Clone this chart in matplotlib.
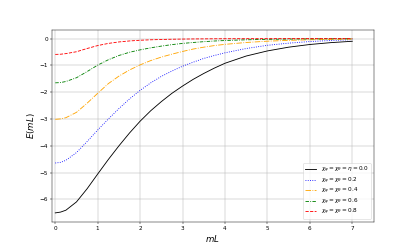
import matplotlib
matplotlib.use("Agg")
import matplotlib.pyplot as plt

x = [0, 0.125, 0.25, 0.5, 0.75, 1, 1.25, 1.5, 1.75, 2, 2.25, 2.5, 2.75, 3, 3.25, 3.5, 3.75, 4,
     4.5, 5, 5.5, 6, 6.5, 7]

e_00 = [-6.50, -6.47, -6.40, -6.09, -5.60, -5.05, -4.51, -4.00, -3.52, -3.08, -2.69, -2.35, -2.04,
        -1.77, -1.52, -1.30, -1.10, -0.92, -0.65, -0.46, -0.32, -0.22, -0.15, -0.10]
e_02 = [-4.64, -4.615, -4.54, -4.25, -3.84, -3.41, -3.00, -2.61, -2.25, -1.93, -1.65, -1.41, -1.21,
        -1.03, -0.88, -0.74, -0.63, -0.53, -0.37, -0.25, -0.17, -0.11, -0.07, -0.04]
e_04 = [-3.01, -2.995, -2.95, -2.75, -2.41, -2.04, -1.68, -1.40, -1.17, -0.98, -0.82, -0.69, -0.58,
        -0.48, -0.39, -0.32, -0.26, -0.215, -0.145, -0.097, -0.065, -0.044, -0.03, -0.02]
e_06 = [-1.65, -1.64, -1.60, -1.46, -1.23, -0.99, -0.79, -0.63, -0.51, -0.42, -0.345, -0.28, -0.225,
        -0.18, -0.145, -0.115, -0.09, -0.072, -0.045, -0.028, -0.018, -0.011, -0.007, -0.004]
e_08 = [-0.59, -0.583, -0.56, -0.49, -0.37, -0.26, -0.18, -0.125, -0.088, -0.062, -0.045, -0.033, -0.024,
        -0.018, -0.013, -0.010, -0.007, -0.005, -0.003, -0.002, -0.001, -0.0007, -0.0004, -0.0002]

labels = [r"$\chi_\varphi=\chi_\theta=\eta=0.0$",
          r"$\chi_\varphi=\chi_\theta=0.2$",
          r"$\chi_\varphi=\chi_\theta=0.4$",
          r"$\chi_\varphi=\chi_\theta=0.6$",
          r"$\chi_\varphi=\chi_\theta=0.8$"]
series = [e_00, e_02, e_04, e_06, e_08]
colors = ["black", "blue", "orange", "green", "red"]
styles = ["-", ":", "-.", (0, (4, 1.5, 1, 1.5)), "--"]

fig, ax = plt.subplots(figsize=(10, 6), dpi=41.5)
for ys, lab, c, ls in zip(series, labels, colors, styles):
    ax.plot(x, ys, color=c, linestyle=ls, linewidth=1.5, label=lab)

ax.set_xlim(-0.08, 7.5)
ax.set_xticks(range(0, 8))
ax.set_yticks(range(-6, 1))
ax.grid(True)
ax.set_xlabel(r"$mL$", fontsize=15)
ax.set_ylabel(r"$E(mL)$", fontsize=15)
ax.legend(loc="lower right", fontsize=10, labelspacing=0.05, borderpad=0.3)
fig.savefig("out.png", dpi=41.5)
